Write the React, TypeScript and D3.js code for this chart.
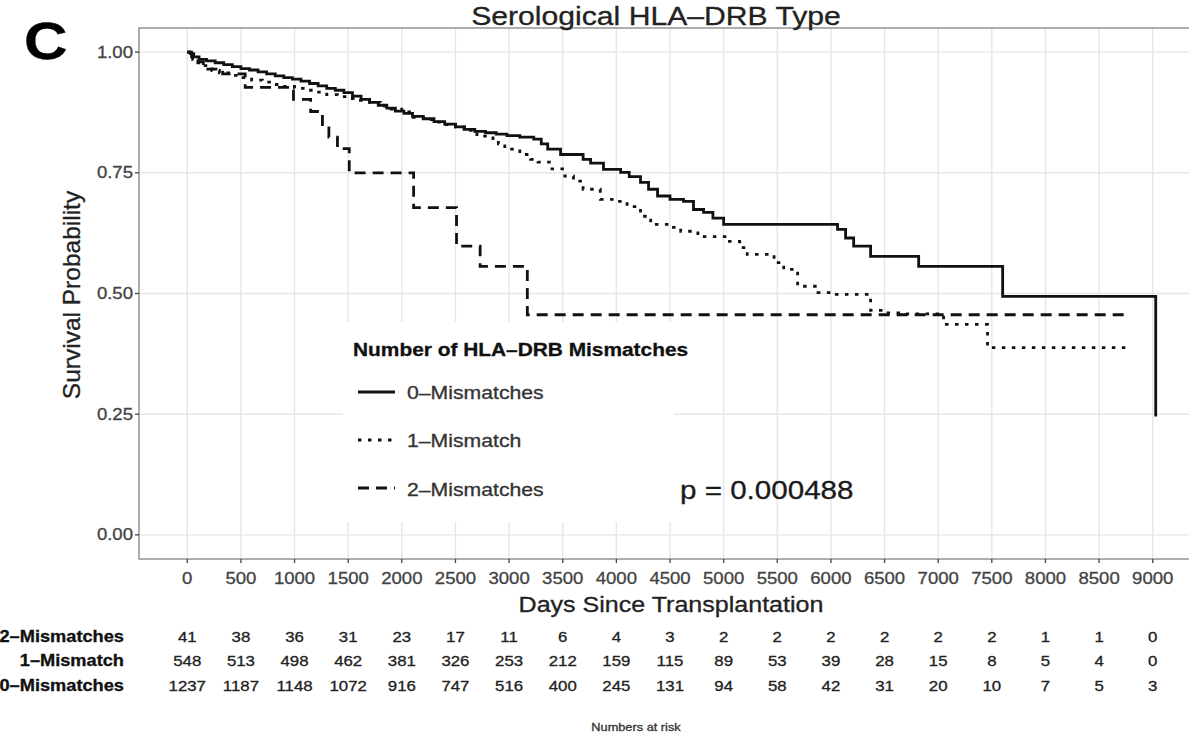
import React from "react";
import * as d3 from "d3";

// Axis breaks
const xTickValues = [0, 500, 1000, 1500, 2000, 2500, 3000, 3500, 4000, 4500, 5000, 5500, 6000, 6500, 7000, 7500, 8000, 8500, 9000];
const yTickValues = [0, 0.25, 0.5, 0.75, 1];
const yTickLabels = ["0.00", "0.25", "0.50", "0.75", "1.00"];

// Kaplan–Meier step estimates: [days since transplantation, survival probability]
const zeroMismatches: [number, number][] = [
  [0, 1.0], [30, 0.997], [60, 0.99], [110, 0.985], [180, 0.982], [260, 0.978], [340, 0.974],
  [420, 0.97], [500, 0.966], [580, 0.963], [660, 0.959], [740, 0.955], [820, 0.951], [900, 0.947],
  [980, 0.944], [1060, 0.94], [1140, 0.935], [1220, 0.93], [1300, 0.925], [1380, 0.921],
  [1460, 0.916], [1540, 0.909], [1620, 0.902], [1700, 0.896], [1780, 0.89], [1860, 0.884],
  [1940, 0.878], [2020, 0.873], [2100, 0.867], [2200, 0.862], [2300, 0.856], [2400, 0.851],
  [2500, 0.845], [2580, 0.84], [2680, 0.836], [2780, 0.833], [2880, 0.83], [2980, 0.827],
  [3100, 0.824], [3230, 0.82], [3300, 0.81], [3360, 0.799], [3480, 0.788], [3690, 0.778],
  [3760, 0.77], [3880, 0.757], [4040, 0.751], [4120, 0.742], [4225, 0.73], [4300, 0.716],
  [4384, 0.702], [4500, 0.695], [4626, 0.691], [4719, 0.674], [4813, 0.668], [4900, 0.656],
  [5000, 0.643], [6062, 0.633], [6137, 0.615], [6212, 0.598], [6370, 0.577], [6818, 0.556],
  [7601, 0.494], [9028, 0.245],
];

const oneMismatch: [number, number][] = [
  [0, 1.0], [20, 0.993], [50, 0.985], [100, 0.978], [150, 0.972], [230, 0.962], [300, 0.957],
  [400, 0.952], [500, 0.947], [600, 0.942], [700, 0.938], [800, 0.933], [900, 0.929],
  [1000, 0.925], [1100, 0.921], [1200, 0.917], [1300, 0.912], [1400, 0.908], [1500, 0.904],
  [1600, 0.9], [1700, 0.896], [1800, 0.888], [1900, 0.882], [2000, 0.876], [2108, 0.865],
  [2200, 0.86], [2300, 0.855], [2400, 0.85], [2500, 0.845], [2600, 0.838], [2700, 0.826],
  [2850, 0.818], [2900, 0.81], [2960, 0.799], [3100, 0.788], [3200, 0.778], [3270, 0.772],
  [3400, 0.758], [3520, 0.743], [3600, 0.733], [3690, 0.716], [3850, 0.695], [4010, 0.691],
  [4100, 0.68], [4225, 0.66], [4320, 0.643], [4500, 0.637], [4600, 0.629], [4760, 0.618],
  [5040, 0.608], [5150, 0.595], [5220, 0.581], [5470, 0.564], [5560, 0.55], [5690, 0.515],
  [5880, 0.502], [6030, 0.498], [6370, 0.465], [6500, 0.46], [6700, 0.458], [7020, 0.456],
  [7050, 0.436], [7460, 0.388], [8770, 0.388],
];

const twoMismatches: [number, number][] = [
  [0, 1.0], [40, 0.99], [100, 0.98], [150, 0.965], [330, 0.955], [540, 0.927], [990, 0.902],
  [1150, 0.877], [1260, 0.85], [1320, 0.824], [1400, 0.8], [1510, 0.75], [2110, 0.678],
  [2510, 0.598], [2730, 0.556], [3170, 0.456], [8730, 0.456],
];

const groupNames = ["0–Mismatches", "1–Mismatch", "2–Mismatches"];
const groupSeries = [zeroMismatches, oneMismatch, twoMismatches];

// Numbers at risk at each break
const riskRowLabels = ["2–Mismatches", "1–Mismatch", "0–Mismatches"];
const riskRowTop = [41, 38, 36, 31, 23, 17, 11, 6, 4, 3, 2, 2, 2, 2, 2, 2, 1, 1, 0];
const riskRowMiddle = [548, 513, 498, 462, 381, 326, 253, 212, 159, 115, 89, 53, 39, 28, 15, 8, 5, 4, 0];
const riskRowBottom = [1237, 1187, 1148, 1072, 916, 747, 516, 400, 245, 131, 94, 58, 42, 31, 20, 10, 7, 5, 3];
const riskRows = [riskRowTop, riskRowMiddle, riskRowBottom];

const W = 1189;
const H = 734;
const FONT = "'Liberation Sans', Arial, Helvetica, sans-serif";
const SX = 1.16; // horizontal text stretch

const panel = { left: 139, right: 1201, top: 28, bottom: 559 };

const x = d3.scaleLinear().domain([-450, 9450]).range([panel.left, panel.right]);
const y = d3.scaleLinear().domain([-0.05, 1.05]).range([panel.bottom, panel.top]);

const lineStyles = [
  { dash: undefined as string | undefined },
  { dash: "3.5,6.5" },
  { dash: "11,7" },
];

const stepLine = d3
  .line<[number, number]>()
  .x((d) => x(d[0]))
  .y((d) => y(d[1]))
  .curve(d3.curveStepAfter);

type STextProps = {
  x: number;
  y: number;
  size: number;
  anchor?: "start" | "middle" | "end";
  weight?: string;
  fill?: string;
  halo?: number;
  children: React.ReactNode;
};

// Text drawn with a slight horizontal stretch
function SText({ x: tx, y: ty, size, anchor = "start", weight = "normal", fill = "#1a1a1a", halo = 0.3, children }: STextProps) {
  return (
    <text
      transform={`translate(${tx},${ty}) scale(${SX},1)`}
      fontSize={size}
      textAnchor={anchor}
      fontWeight={weight}
      fill={fill}
      stroke={fill}
      strokeWidth={halo}
      fontFamily={FONT}
    >
      {children}
    </text>
  );
}

export default function App() {
  const legendKeyY = [392, 440, 488];
  const legendTextY = [399, 447, 496];
  const riskY = [642, 666, 691];

  return (
    <div style={{ position: "fixed", left: 0, top: 0, width: W, height: H, background: "#fff" }}>
      <svg width={W} height={H} viewBox={`0 0 ${W} ${H}`} style={{ display: "block" }}>
        <rect x={0} y={0} width={W} height={H} fill="#fff" />

        {/* panel background and grid */}
        <rect x={panel.left} y={panel.top} width={panel.right - panel.left} height={panel.bottom - panel.top} fill="#fff" />
        {xTickValues.map((t) => (
          <line key={`gx${t}`} x1={x(t)} x2={x(t)} y1={panel.top} y2={panel.bottom} stroke="#e6e6e6" strokeWidth={1.4} />
        ))}
        {yTickValues.map((t) => (
          <line key={`gy${t}`} x1={panel.left} x2={panel.right} y1={y(t)} y2={y(t)} stroke="#e6e6e6" strokeWidth={1.4} />
        ))}

        {/* survival curves */}
        {groupSeries.map((s, i) => (
          <path
            key={groupNames[i]}
            d={stepLine(s) ?? ""}
            fill="none"
            stroke="#111"
            strokeWidth={2.8}
            strokeDasharray={lineStyles[i].dash}
          />
        ))}

        {/* panel border */}
        <rect
          x={panel.left}
          y={panel.top}
          width={panel.right - panel.left}
          height={panel.bottom - panel.top}
          fill="none"
          stroke="#8c8c8c"
          strokeWidth={1.4}
        />

        {/* legend */}
        <rect x={343} y={322} width={331} height={200} fill="#fff" />
        <SText x={353} y={356} size={18} weight="bold" fill="#111">Number of HLA–DRB Mismatches</SText>
        {groupNames.map((g, i) => (
          <g key={`lg${g}`}>
            <line
              x1={358}
              x2={395}
              y1={legendKeyY[i]}
              y2={legendKeyY[i]}
              stroke="#111"
              strokeWidth={2.8}
              strokeDasharray={lineStyles[i].dash}
            />
            <SText x={407} y={legendTextY[i]} size={18.3} fill="#333">{g}</SText>
          </g>
        ))}

        <SText x={680} y={499} size={25.5} fill="#1a1a1a">p = 0.000488</SText>

        {/* y axis */}
        {yTickValues.map((t, i) => (
          <g key={`yt${t}`}>
            <line x1={panel.left - 4} x2={panel.left} y1={y(t)} y2={y(t)} stroke="#444" strokeWidth={1.3} />
            <SText x={panel.left - 6} y={y(t) + 5.5} size={16} anchor="end" fill="#444">{yTickLabels[i]}</SText>
          </g>
        ))}
        <text
          transform={`translate(${80},${295}) rotate(-90)`}
          fontSize={24.5}
          textAnchor="middle"
          fill="#222"
          stroke="#222"
          strokeWidth={0.3}
          fontFamily={FONT}
        >
          Survival Probability
        </text>

        {/* x axis */}
        {xTickValues.map((t) => (
          <g key={`xt${t}`}>
            <line x1={x(t)} x2={x(t)} y1={panel.bottom} y2={panel.bottom + 4} stroke="#444" strokeWidth={1.3} />
            <SText x={x(t)} y={584} size={16} anchor="middle" fill="#444">{String(t)}</SText>
          </g>
        ))}
        <SText x={671} y={612} size={21.6} anchor="middle" fill="#222">Days Since Transplantation</SText>

        {/* title and panel tag */}
        <SText x={656} y={24.5} size={26} anchor="middle" fill="#222">Serological HLA–DRB Type</SText>
        <SText x={24} y={59} size={52} weight="bold" fill="#000">C</SText>

        {/* numbers at risk */}
        {riskRows.map((row, r) => (
          <g key={`rr${r}`}>
            <SText x={124} y={riskY[r]} size={15.7} anchor="end" weight="bold" fill="#111">{riskRowLabels[r]}</SText>
            {row.map((v, k) => (
              <SText key={`rv${r}-${k}`} x={x(riskTimesOf(k))} y={riskY[r]} size={14.5} anchor="middle" fill="#222">
                {String(v)}
              </SText>
            ))}
          </g>
        ))}
        <SText x={636} y={731} size={11} anchor="middle" fill="#333">Numbers at risk</SText>
      </svg>
    </div>
  );
}

function riskTimesOf(k: number): number {
  return xTickValues[k];
}
